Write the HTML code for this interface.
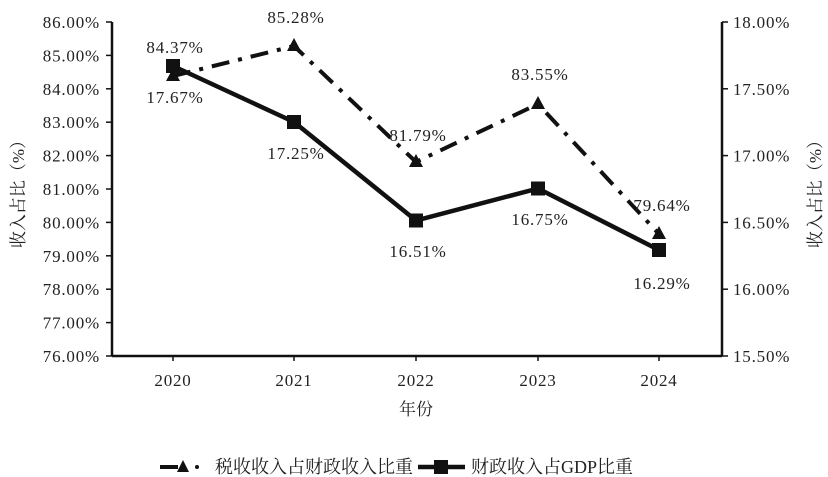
<!DOCTYPE html>
<html><head><meta charset="utf-8"><style>body{margin:0;background:#fff}svg{display:block}</style></head><body>
<svg width="828" height="477" xmlns="http://www.w3.org/2000/svg" font-family="'Liberation Serif','Noto Serif CJK SC',serif" font-size="17" fill="#222">
<g stroke="#111" stroke-width="2.5" fill="none">
<line x1="112" y1="22" x2="112" y2="356"/>
<line x1="722" y1="22" x2="722" y2="356"/>
<line x1="112" y1="356" x2="722" y2="356"/>
</g>
<g stroke="#111" stroke-width="1.5">
<line x1="106" y1="22" x2="112" y2="22"/><line x1="106" y1="55.4" x2="112" y2="55.4"/><line x1="106" y1="88.8" x2="112" y2="88.8"/><line x1="106" y1="122.2" x2="112" y2="122.2"/><line x1="106" y1="155.6" x2="112" y2="155.6"/><line x1="106" y1="189" x2="112" y2="189"/><line x1="106" y1="222.4" x2="112" y2="222.4"/><line x1="106" y1="255.8" x2="112" y2="255.8"/><line x1="106" y1="289.2" x2="112" y2="289.2"/><line x1="106" y1="322.6" x2="112" y2="322.6"/><line x1="106" y1="356" x2="112" y2="356"/>
<line x1="722" y1="22" x2="728" y2="22"/><line x1="722" y1="88.8" x2="728" y2="88.8"/><line x1="722" y1="155.6" x2="728" y2="155.6"/><line x1="722" y1="222.4" x2="728" y2="222.4"/><line x1="722" y1="289.2" x2="728" y2="289.2"/><line x1="722" y1="356" x2="728" y2="356"/>
<line x1="173" y1="356" x2="173" y2="361"/><line x1="294" y1="356" x2="294" y2="361"/><line x1="416" y1="356" x2="416" y2="361"/><line x1="538" y1="356" x2="538" y2="361"/><line x1="659" y1="356" x2="659" y2="361"/>
</g>
<g text-anchor="end" letter-spacing="0.8">
<text x="100" y="28">86.00%</text><text x="100" y="61.4">85.00%</text><text x="100" y="94.8">84.00%</text><text x="100" y="128.2">83.00%</text><text x="100" y="161.6">82.00%</text><text x="100" y="195">81.00%</text><text x="100" y="228.4">80.00%</text><text x="100" y="261.8">79.00%</text><text x="100" y="295.2">78.00%</text><text x="100" y="328.6">77.00%</text><text x="100" y="362">76.00%</text>
</g>
<g letter-spacing="0.8">
<text x="733" y="28">18.00%</text><text x="733" y="94.8">17.50%</text><text x="733" y="161.6">17.00%</text><text x="733" y="228.4">16.50%</text><text x="733" y="295.2">16.00%</text><text x="733" y="362">15.50%</text>
</g>
<g text-anchor="middle">
<g letter-spacing="0.8">
<text x="173" y="386">2020</text><text x="294" y="386">2021</text><text x="416" y="386">2022</text><text x="538" y="386">2023</text><text x="659" y="386">2024</text>
</g>
<text x="416" y="415" font-size="17">年份</text>
<text transform="translate(24,190) rotate(-90)" font-size="17">收入占比（%）</text>
<text transform="translate(821,190) rotate(-90)" font-size="17">收入占比（%）</text>
</g>
<polyline points="173,76 294,46 416,162 538,104 659,234" fill="none" stroke="#111" stroke-width="4" stroke-dasharray="18,9,4,9"/>
<g fill="#111">
<polygon points="173,68 166,81 180,81"/><polygon points="294,38 287,51 301,51"/><polygon points="416,154 409,167 423,167"/><polygon points="538,96 531,109 545,109"/><polygon points="659,226 652,239 666,239"/>
</g>
<polyline points="173,66 294,122 416,220.5 538,188.5 659,250" fill="none" stroke="#111" stroke-width="4.5"/>
<g fill="#111">
<rect x="166" y="59" width="14" height="14"/><rect x="287" y="115" width="14" height="14"/><rect x="409" y="213.5" width="14" height="14"/><rect x="531" y="181.5" width="14" height="14"/><rect x="652" y="243" width="14" height="14"/>
</g>
<g text-anchor="middle" letter-spacing="0.8">
<text x="175" y="53">84.37%</text><text x="175" y="103">17.67%</text>
<text x="296" y="23">85.28%</text><text x="296" y="159">17.25%</text>
<text x="418" y="141">81.79%</text><text x="418" y="257">16.51%</text>
<text x="540" y="80">83.55%</text><text x="540" y="225">16.75%</text>
<text x="662" y="211">79.64%</text><text x="662" y="289">16.29%</text>
</g>
<g>
<line x1="160" y1="467" x2="178" y2="467" stroke="#111" stroke-width="4"/>
<polygon points="183,460 177,472 189,472" fill="#111"/>
<circle cx="197" cy="467" r="2" fill="#111"/>
<text x="215" y="473" font-size="18">税收收入占财政收入比重</text>
<line x1="418" y1="467" x2="465" y2="467" stroke="#111" stroke-width="4.5"/>
<rect x="434" y="460" width="14" height="14" fill="#111"/>
<text x="471" y="473" font-size="18">财政收入占GDP比重</text>
</g>
</svg>
</body></html>
